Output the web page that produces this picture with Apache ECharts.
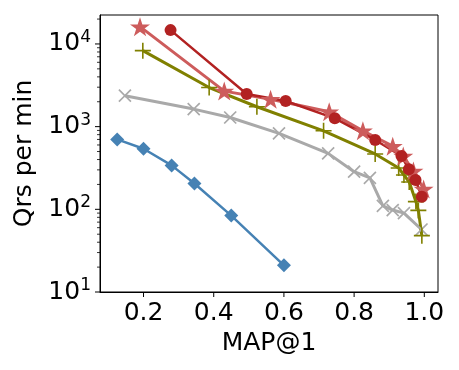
<!DOCTYPE html>
<html>
<head>
<meta charset="utf-8">
<script src="https://cdn.jsdelivr.net/npm/echarts@6/dist/echarts.min.js"></script>
<style>
html,body{margin:0;padding:0;background:#fff}
#chart{width:459px;height:370px}
</style>
</head>
<body>
<div id="chart"></div>
<script>
// series (x = MAP@1, y = queries per minute)
var diamondX = [0.125, 0.2, 0.28, 0.345, 0.45, 0.6];
var diamondY = [700, 540, 340, 205, 84, 21];

var crossX = [0.147, 0.343, 0.447, 0.586, 0.726, 0.80, 0.845, 0.882, 0.91, 0.942, 0.992];
var crossY = [2370, 1630, 1290, 830, 475, 285, 240, 110, 98, 90, 57];

var plusX = [0.198, 0.387, 0.523, 0.713, 0.86, 0.927, 0.942, 0.957, 0.976, 0.983, 0.993];
var plusY = [8300, 2970, 1740, 890, 467, 316, 260, 214, 124, 97, 48];

var starX = [0.19, 0.43, 0.562, 0.729, 0.825, 0.91, 0.94, 0.969, 0.998];
var starY = [16200, 2690, 2140, 1510, 890, 580, 440, 290, 176];

var circleX = [0.277, 0.494, 0.605, 0.745, 0.86, 0.935, 0.956, 0.975, 0.993];
var circleY = [14700, 2480, 2040, 1260, 690, 441, 305, 226, 142];

var xTicks = [0.2, 0.4, 0.6, 0.8, 1.0];
var yMajor = [10, 100, 1000, 10000];
var yMinor = [];
[10, 100, 1000, 10000].forEach(function(d){
	for(var k = 2; k <= 9; k++){
		if(k * d < 22400) yMinor.push(k * d);
	}
});

var X_MIN = 0.076, X_MAX = 1.039, Y_MIN = 10, Y_MAX = 22400;
var FONT = 'DejaVu Sans';

var zip = function(xs, ys){
	var out = [];
	for(var i = 0; i < xs.length; i++){
		out.push([xs[i], ys[i]]);
	}
	return out;
};

// five point star like matplotlib '*'
var starPath = (function(){
	var s = 'path://';
	for(var i = 0; i < 10; i++){
		var r = i % 2 == 0 ? 10 : 3.82;
		var a = -Math.PI / 2 + i * Math.PI / 5;
		s += (i == 0 ? 'M' : 'L') + (r * Math.cos(a)).toFixed(3) + ',' + (r * Math.sin(a)).toFixed(3);
	}
	return s + 'Z';
})();
var plusPath = 'path://M-1,-10L1,-10L1,-1L10,-1L10,1L1,1L1,10L-1,10L-1,1L-10,1L-10,-1L-1,-1Z';

var lineSeries = function(xs, ys, color, symbol, size, width, extra){
	var s = {
		type: 'line',
		data: zip(xs, ys),
		symbol: symbol,
		symbolSize: size,
		symbolKeepAspect: true,
		showAllSymbol: true,
		lineStyle: {color: color, width: width},
		itemStyle: {color: color, borderWidth: 0},
		emphasis: {disabled: true}
	};
	for(var key in extra){
		s[key] = extra[key];
	}
	return s;
};

// tick marks drawn outward from the frame
var tickSeries = function(data, horizontal){
	return {
		type: 'custom',
		coordinateSystem: 'cartesian2d',
		silent: true,
		clip: false,
		data: data,
		renderItem: function(params, api){
			var p = api.coord([api.value(0), api.value(1)]);
			var len = api.value(2);
			var shape = horizontal
				? {x1: p[0], y1: p[1], x2: p[0], y2: p[1] + len}
				: {x1: p[0], y1: p[1], x2: p[0] - len, y2: p[1]};
			return {
				type: 'line',
				shape: shape,
				style: {stroke: '#000', lineWidth: len > 4 ? 1 : 0.8}
			};
		}
	};
};

var xTickData = xTicks.map(function(v){ return [v, Y_MIN, 5]; });
var yTickData = yMajor.map(function(v){ return [X_MIN, v, 5]; })
	.concat(yMinor.map(function(v){ return [X_MIN, v, 3]; }));

var chart = echarts.init(document.getElementById('chart'), null, {renderer: 'canvas'});
chart.setOption({
	animation: false,
	backgroundColor: '#fff',
	grid: {
		left: 100, right: 21, top: 15, bottom: 78,
		show: true, borderColor: '#000', borderWidth: 1,
		containLabel: false,
		outerBoundsMode: 'none'
	},
	xAxis: {
		type: 'value',
		min: X_MIN, max: X_MAX,
		name: 'MAP@1',
		nameLocation: 'middle',
		nameGap: 34,
		nameTextStyle: {fontSize: 25, fontFamily: FONT, color: '#000'},
		axisLine: {show: true, lineStyle: {color: '#000', width: 1}},
		axisTick: {show: false},
		splitLine: {show: false},
		axisLabel: {
			margin: 9,
			fontSize: 25, fontFamily: FONT, color: '#000',
			showMinLabel: false, showMaxLabel: false,
			formatter: function(v){
				return Math.abs(v * 5 - Math.round(v * 5)) < 1e-6 ? v.toFixed(1) : '';
			}
		}
	},
	yAxis: {
		type: 'log',
		logBase: 10,
		min: Y_MIN, max: Y_MAX,
		name: 'Qrs per min',
		nameLocation: 'middle',
		nameGap: 51,
		nameTextStyle: {fontSize: 25, fontFamily: FONT, color: '#000'},
		axisLine: {show: true, lineStyle: {color: '#000', width: 1}},
		axisTick: {show: false},
		splitLine: {show: false},
		axisLabel: {
			margin: 9,
			showMaxLabel: false,
			formatter: function(v){
				var e = Math.round(Math.log(v) / Math.LN10);
				if(Math.abs(Math.pow(10, e) - v) > 1e-6 * v) return '';
				return '{b|10}{s|' + e + '}';
			},
			rich: {
				b: {fontSize: 25, fontFamily: FONT, color: '#000', lineHeight: 30},
				s: {fontSize: 17, fontFamily: FONT, color: '#000', verticalAlign: 'top', lineHeight: 30, padding: [0, 0, 12, 0]}
			}
		}
	},
	series: [
		lineSeries(diamondX, diamondY, '#4682b4', 'diamond', 14, 2.5),
		lineSeries(crossX, crossY, '#a9a9a9', plusPath, 17, 3, {symbolRotate: 45}),
		lineSeries(plusX, plusY, '#808000', plusPath, 16, 3),
		lineSeries(starX, starY, '#cd5c5c', starPath, 20, 3),
		lineSeries(circleX, circleY, '#b22222', 'circle', 12, 2.5),
		tickSeries(xTickData, true),
		tickSeries(yTickData, false)
	]
});
</script>
</body>
</html>
